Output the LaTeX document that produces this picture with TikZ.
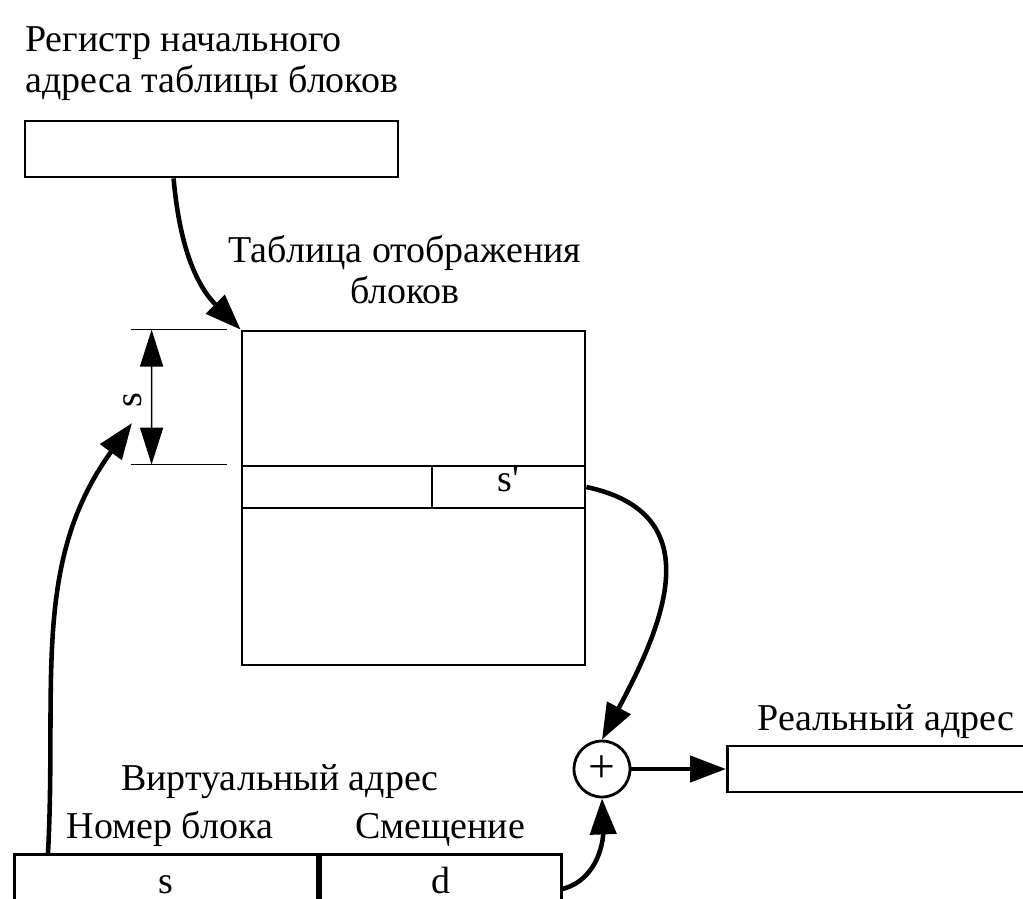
\documentclass[tikz,border=0pt]{standalone}
\usepackage{fontspec}
\setmainfont{Liberation Serif}
\usetikzlibrary{positioning, calc, arrows.meta}

\begin{document}
\begin{tikzpicture}[
    font=\fontsize{21.6}{23.3}\selectfont,
    box/.style={draw, line width=1.6pt, inner sep=0pt},
    cell/.style={box, text height=0.7em, text depth=0.2em},
    link/.style={line width=2.6pt, -{Triangle[length=0.72cm, width=0.52cm]}},
    dim/.style={line width=0.9pt},
  ]
  \useasboundingbox (0,0) rectangle (20.46,-17.98);

  % register of the table address
  \node[anchor=base west, align=left] (regtxt) at (0.38,-1.84) {Регистр начального\\адреса таблицы блоков};
  \node[box, minimum width=7.46cm, minimum height=1.12cm] (reg) at (4.23,-2.98) {};

  % block table
  \node[align=center, anchor=base] (tabtxt) at (8.1,-6.06) {Таблица отображения\\блоков};
  \node[box, minimum width=6.86cm, minimum height=6.68cm] (tab) at (8.27,-9.96) {};
  \node[cell, minimum width=3.8cm, minimum height=0.84cm] (row) at (6.74,-9.74) {};
  \node[cell, minimum width=3.06cm, minimum height=0.84cm] (sp) at (10.17,-9.74) {s\textquotesingle};

  % offset s
  \coordinate (dtop) at ($(tab.north west)+(-1.78,0)$);
  \coordinate (dbot) at ($(row.north west)+(-1.78,0)$);
  \draw[dim] ($(tab.north west)+(-0.28,0)$) -- ++(-1.92,0);
  \draw[dim] ($(row.north west)+(-0.28,0)$) -- ++(-1.92,0);
  \draw[dim, {Triangle[length=0.74cm, width=0.46cm]}-{Triangle[length=0.74cm, width=0.46cm]}] (dtop) -- (dbot);
  \node[rotate=90] (slbl) at (2.66,-8.0) {s};

  % adder and real address
  \node[draw, circle, line width=1.6pt, minimum size=1.12cm, inner sep=0pt, font=\fontsize{27}{27}\selectfont] (sum) at (12.04,-15.38) {+};
  \node[box, minimum width=6.2cm, minimum height=0.92cm, anchor=west] (real) at (14.52,-15.38) {};
  \node[anchor=base] (realtxt) at (17.72,-14.6) {Реальный адрес};

  % virtual address
  \node[anchor=base] (vtxt) at (5.6,-15.8) {Виртуальный адрес};
  \node[anchor=base] (ntxt) at (3.4,-16.76) {Номер блока};
  \node[anchor=base] (otxt) at (8.8,-16.76) {Смещение};
  \node[cell, minimum width=6.06cm, minimum height=1.38cm, anchor=north west] (vs) at (0.26,-17.06) {s};
  \node[cell, minimum width=4.82cm, minimum height=1.38cm, anchor=north west] (vd) at (vs.north east) {d};

  % connectors
  \coordinate (stip) at (2.64,-8.46);
  \draw[link] ($(reg.south west)+(3.0,0)$) to[out=-85, in=135] (tab.north west);
  \draw[link] ($(vs.north west)+(0.7,0)$) to[out=87, in=-126] (stip);
  \draw[link] (sp.east) to[out=-12, in=62, looseness=1.3] (sum.north);
  \draw[link] (vd.east) to[out=15, in=-88] (sum.south);
  \draw[link] (sum.east) -- (real.west);
\end{tikzpicture}
\end{document}
